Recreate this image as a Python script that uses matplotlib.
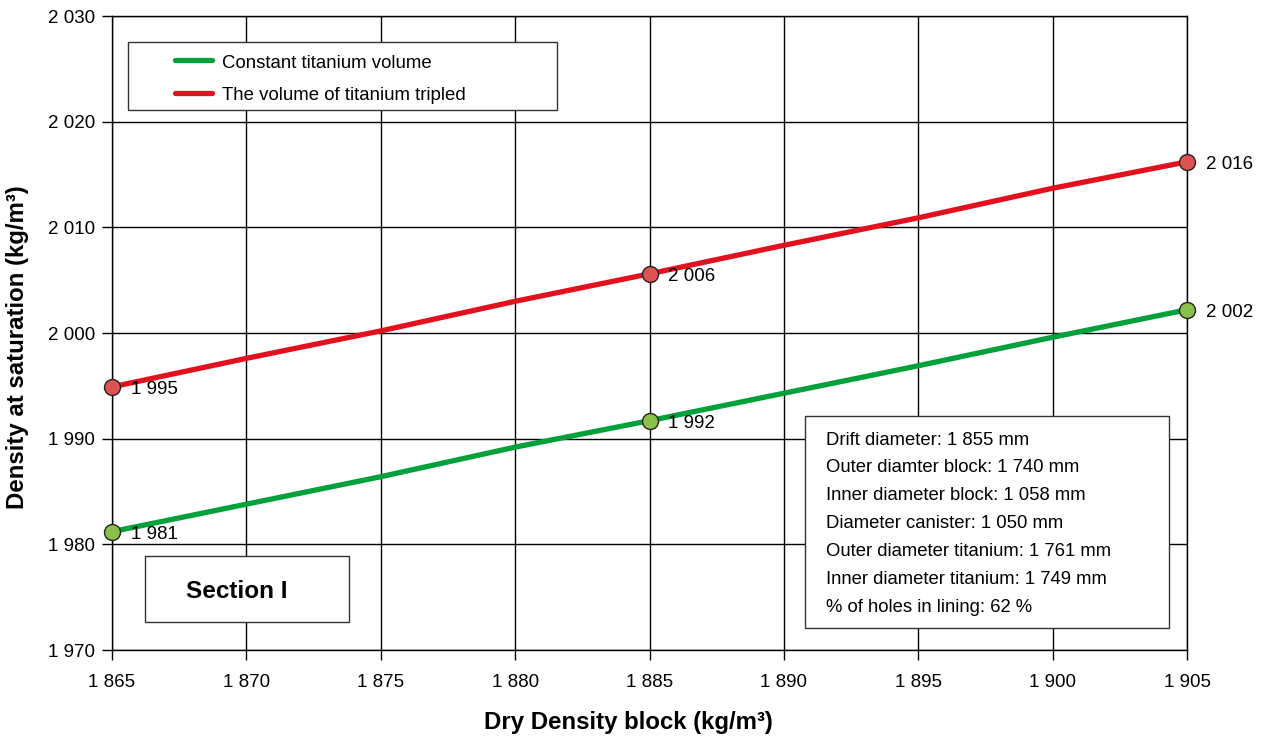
import matplotlib
matplotlib.use("Agg")
import matplotlib.pyplot as plt
from matplotlib.ticker import FuncFormatter, MultipleLocator
from matplotlib.lines import Line2D

plt.rcParams['font.family'] = ['Liberation Sans', 'DejaVu Sans']

# Dry density of the block (kg/m3)
dry_density = [1865, 1870, 1875, 1880, 1885, 1890, 1895, 1900, 1905]
# Density at saturation (kg/m3)
sat_constant = [1981.2, 1983.8, 1986.4, 1989.2, 1991.7, 1994.3, 1996.9, 1999.6, 2002.2]
sat_tripled = [1994.9, 1997.6, 2000.2, 2003.0, 2005.6, 2008.3, 2010.9, 2013.7, 2016.2]

# Highlighted points (indices into the series above)
marked = [0, 4, 8]

series_names = ["Constant titanium volume", "The volume of titanium tripled"]
line_colors = ["#00a13a", "#e3101e"]
marker_colors = ["#8cc04c", "#e05252"]

info_lines = [
    "Drift diameter: 1 855 mm",
    "Outer diamter block: 1 740 mm",
    "Inner diameter block: 1 058 mm",
    "Diameter canister: 1 050 mm",
    "Outer diameter titanium: 1 761 mm",
    "Inner diameter titanium: 1 749 mm",
    "% of holes in lining: 62 %",
]

W, H = 1269, 740
L, R, T, B = 112, 1187, 16, 650


def thousands(v, pos=None):
    return f"{int(round(v)):,}".replace(",", " ")


def ax_xy(px, py):
    """Pixel position on the figure -> axes fraction."""
    return (px - L) / (R - L), (B - py) / (B - T)


fig = plt.figure(figsize=(W / 100, H / 100), dpi=100)
ax = fig.add_axes([L / W, 1 - B / H, (R - L) / W, (B - T) / H])

ax.set_xlim(1865, 1905)
ax.set_ylim(1970, 2030)
ax.xaxis.set_major_locator(MultipleLocator(5))
ax.yaxis.set_major_locator(MultipleLocator(10))
ax.xaxis.set_major_formatter(FuncFormatter(thousands))
ax.yaxis.set_major_formatter(FuncFormatter(thousands))
ax.grid(True, color="black", linewidth=1.0)
ax.set_axisbelow(True)
for s in ax.spines.values():
    s.set_visible(True)
    s.set_color("black")
    s.set_linewidth(1.0)
ax.tick_params(axis="both", direction="out", length=7, width=1, labelsize=13.5, color="black")
ax.tick_params(axis="x", pad=10)
ax.tick_params(axis="y", pad=5)

for ys, lc, mc in zip([sat_constant, sat_tripled], line_colors, marker_colors):
    ax.plot(dry_density, ys, color=lc, linewidth=3.8, solid_capstyle="round", zorder=3, clip_on=False)
    for i in marked:
        ax.plot(dry_density[i], ys[i], "o", markersize=11.5, markerfacecolor=mc,
                markeredgecolor="#222222", markeredgewidth=1.0, zorder=4, clip_on=False)
        ax.annotate(thousands(ys[i]), (dry_density[i], ys[i]), xytext=(13.5, -2),
                    textcoords="offset points", ha="left", va="center", fontsize=13.5)

ax.set_xlabel("Dry Density block (kg/m³)", fontsize=17.3, fontweight="bold")
ax.set_ylabel("Density at saturation (kg/m³)", fontsize=17.3, fontweight="bold")
ax.xaxis.set_label_coords(ax_xy(628, 0)[0], ax_xy(0, 723)[1])
ax.yaxis.set_label_coords(ax_xy(18, 0)[0], ax_xy(0, 347)[1])
ax.xaxis.label.set_va("center")
ax.yaxis.label.set_va("center")


def box(px0, py0, px1, py1):
    x0, y0 = ax_xy(px0, py1)
    x1, y1 = ax_xy(px1, py0)
    ax.add_patch(plt.Rectangle((x0, y0), x1 - x0, y1 - y0, transform=ax.transAxes,
                               facecolor="white", edgecolor="#333333", linewidth=1.0, zorder=5))


# Legend box
box(128, 42, 557, 110)
for k, (name, c) in enumerate(zip(series_names, line_colors)):
    py = 60 + 33 * k
    xa, ya = ax_xy(175, py)
    xb, _ = ax_xy(212, py)
    ax.add_line(Line2D([xa, xb], [ya, ya], transform=ax.transAxes, color=c, linewidth=3.8,
                       solid_capstyle="round", zorder=6))
    xt, yt = ax_xy(222, py + 1)
    ax.text(xt, yt, name, transform=ax.transAxes, ha="left", va="center_baseline",
            fontsize=13.4, zorder=6)

# Section label box
box(145, 556, 349, 622)
sx, sy = ax_xy(237, 591)
ax.text(sx, sy, "Section I", transform=ax.transAxes,
        ha="center", va="center", fontsize=17.5, fontweight="bold", zorder=6)

# Parameter box
box(805, 416, 1169, 628)
for k, t in enumerate(info_lines):
    tx, ty = ax_xy(826, 438 + 28 * k)
    ax.text(tx, ty, t, transform=ax.transAxes, ha="left", va="center_baseline",
            fontsize=13.35, zorder=6)

fig.savefig("out.png", dpi=100)
